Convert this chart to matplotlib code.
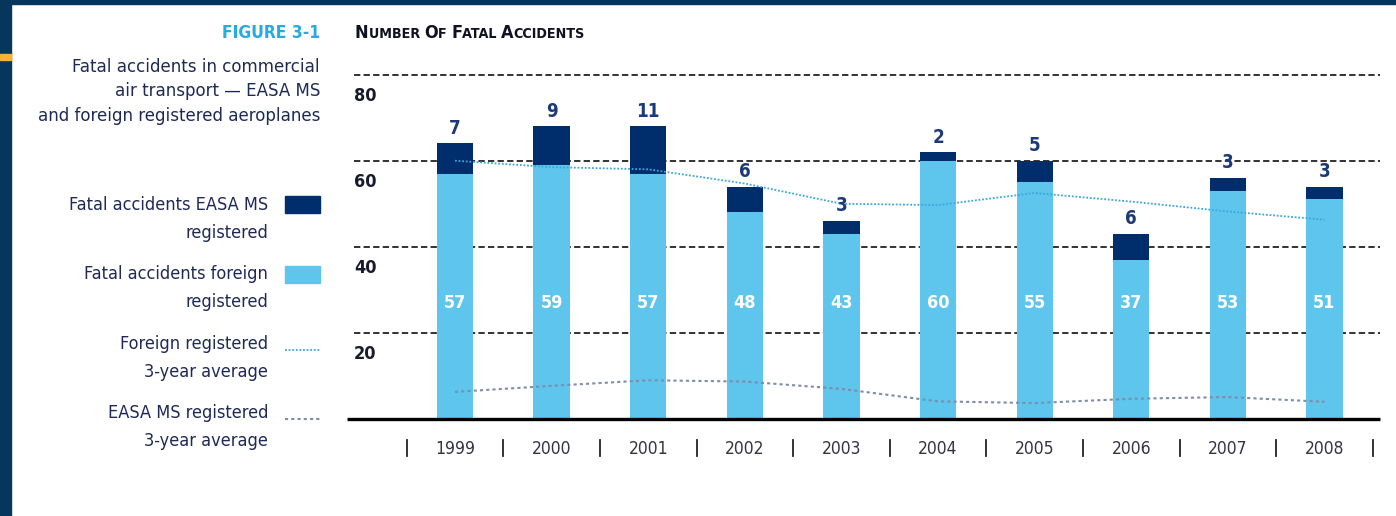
import matplotlib
matplotlib.use("Agg")
import matplotlib.pyplot as plt
import matplotlib.font_manager as fm
from matplotlib.patches import Rectangle
from matplotlib.lines import Line2D
from matplotlib.offsetbox import TextArea, HPacker, AnnotationBbox

years = ['1999', '2000', '2001', '2002', '2003', '2004', '2005', '2006', '2007', '2008']
easa = [7, 9, 11, 6, 3, 2, 5, 6, 3, 3]
foreign = [57, 59, 57, 48, 43, 60, 55, 37, 53, 51]
foreign_avg = [60.0, 58.5, 58.0, 54.7, 50.0, 49.7, 52.5, 50.5, 48.2, 46.3]
easa_avg = [6.3, 7.7, 9.0, 8.7, 7.0, 4.1, 3.7, 4.7, 5.1, 4.0]
grid_vals = [20, 40, 60, 80]

NAVY = '#002d6b'
LIGHT = '#5ec5ec'
TEXT = '#1e2a55'
W, H = 1396, 516

# look for a narrow sans face, the original uses a condensed font
narrow = None
for f in fm.fontManager.ttflist:
    if ('Narrow' in f.name or 'Condensed' in f.name or
            f.stretch in ('condensed', 'semi-condensed')) and f.style == 'normal':
        narrow = f
        break
if narrow is not None:
    plt.rcParams['font.family'] = [narrow.name, 'DejaVu Sans']
    plt.rcParams['font.stretch'] = narrow.stretch
    k = 1.0
else:
    plt.rcParams['font.family'] = ['Liberation Sans', 'DejaVu Sans']
    k = 0.93


def fx(x):
    return x / W


def fy(y):
    return 1 - y / H


fig = plt.figure(figsize=(W / 100, H / 100), dpi=100)

# page frame
fig.patches.append(Rectangle((0, 0), fx(11), 1, transform=fig.transFigure,
                             color='#07365c', zorder=0))
fig.patches.append(Rectangle((0, fy(4)), 1, 4 / H, transform=fig.transFigure,
                             color='#07365c', zorder=0))
fig.patches.append(Rectangle((0, fy(60)), fx(11), 6 / H, transform=fig.transFigure,
                             color='#f5b335', zorder=1))

ax = fig.add_axes([fx(347), fy(419), fx(1380) - fx(347), fy(66) - fy(419)])
x = list(range(len(years)))
ax.set_xlim(-1.118, 9.575)
ax.set_ylim(0, 82)
ax.axis('off')

# grid lines and y labels
for v in grid_vals:
    ax.plot([0.007, 1], [v, v], transform=ax.get_yaxis_transform(), color='#222222',
            lw=1.3, dashes=(3.5, 1.8), zorder=1, clip_on=False)
    ax.text(0.007, v - 4.9, str(v), transform=ax.get_yaxis_transform(), ha='left',
            va='center', fontsize=13 * k, fontweight='bold', color='#1a1a2e')
ax.plot([0, 1], [0, 0], transform=ax.get_yaxis_transform(), color='black', lw=2.4,
        zorder=5, clip_on=False, solid_capstyle='butt')

ax.bar(x, foreign, width=0.375, color=LIGHT, zorder=2)
ax.bar(x, easa, width=0.375, bottom=foreign, color=NAVY, zorder=2)

ax.plot(x, foreign_avg, color='#3aa6dd', lw=1.3, ls=(0, (1, 1)), zorder=3)
ax.plot(x, easa_avg, color='#7d8dab', lw=1.5, ls=(0, (1.5, 1.5)), zorder=3)

for i in x:
    ax.annotate(str(easa[i]), (i, foreign[i] + easa[i]), xytext=(0, 4),
                textcoords='offset points', ha='center', va='bottom', fontsize=13.5 * k,
                fontweight='bold', color='#1c3a78')
    ax.text(i, 26.9, str(foreign[i]), ha='center', va='center', fontsize=13 * k,
            fontweight='bold', color='white', zorder=4)
    ax.text(i, -7.0, years[i], ha='center', va='center', fontsize=12.5 * k,
            color='#333344', clip_on=False)
for i in range(len(years) + 1):
    ax.plot([i - 0.5, i - 0.5], [-4.9, -8.6], color='#222222', lw=1.3, clip_on=False)

# headings
fig.text(fx(320), fy(33), 'FIGURE 3-1', ha='right', va='center', fontsize=12.5,
         fontweight='bold', color='#27aae1')
for j, line in enumerate(['Fatal accidents in commercial',
                          'air transport \u2014 EASA MS',
                          'and foreign registered aeroplanes']):
    fig.text(fx(320), fy(67 + 24.5 * j), line, ha='right', va='center', fontsize=13.3 * k,
             color=TEXT)

pieces = [('N', 13), ('UMBER ', 10.3), ('O', 13), ('F ', 10.3), ('F', 13),
          ('ATAL ', 10.3), ('A', 13), ('CCIDENTS', 10.3)]
boxes = [TextArea(t, textprops=dict(fontsize=s, fontweight='bold', color='#111122'))
         for t, s in pieces]
title = HPacker(children=boxes, align='baseline', pad=0, sep=0)
fig.add_artist(AnnotationBbox(title, (fx(355), fy(33)), xycoords='figure fraction',
                              box_alignment=(0, 0.5), frameon=False, pad=0))

# legend
legend_rows = [('Fatal accidents EASA MS', 'registered', 205),
               ('Fatal accidents foreign', 'registered', 274),
               ('Foreign registered', '3-year average', 344),
               ('EASA MS registered', '3-year average', 413)]
for l1, l2, yy in legend_rows:
    fig.text(fx(268), fy(yy), l1, ha='right', va='center', fontsize=13 * k, color=TEXT)
    fig.text(fx(268), fy(yy + 28), l2, ha='right', va='center', fontsize=13 * k,
             color=TEXT)

fig.patches.append(Rectangle((fx(285), fy(213)), fx(35), 17 / H,
                             transform=fig.transFigure, color=NAVY))
fig.patches.append(Rectangle((fx(285), fy(283)), fx(35), 17 / H,
                             transform=fig.transFigure, color=LIGHT))
fig.add_artist(Line2D([fx(285), fx(320)], [fy(350), fy(350)], transform=fig.transFigure,
                      color='#3aa6dd', lw=1.3, ls=(0, (1, 1))))
fig.add_artist(Line2D([fx(285), fx(320)], [fy(419), fy(419)], transform=fig.transFigure,
                      color='#7d8dab', lw=1.5, ls=(0, (1.5, 1.5))))

fig.savefig('out.png', dpi=100)
